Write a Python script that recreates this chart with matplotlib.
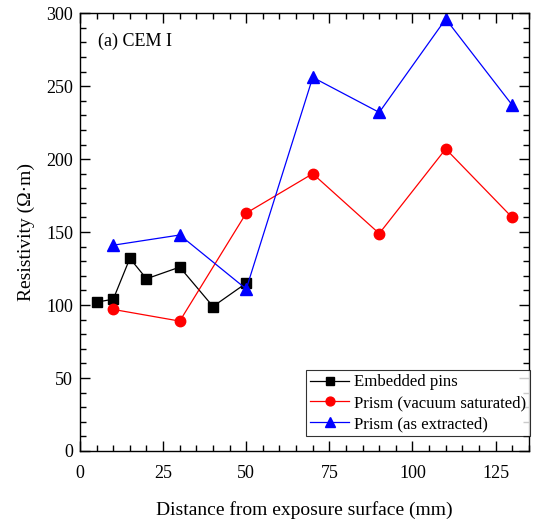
import matplotlib
matplotlib.use("Agg")
import matplotlib.pyplot as plt
from matplotlib.ticker import MultipleLocator

plt.rcParams['font.family'] = ['Liberation Serif', 'DejaVu Serif']

pins_x = [5, 10, 15, 20, 30, 40, 50]
pins_y = [102, 104, 132, 118, 126, 99, 115]

vac_x = [10, 30, 50, 70, 90, 110, 130]
vac_y = [97, 89, 163, 190, 149, 207, 160]

ext_x = [10, 30, 50, 70, 90, 110, 130]
ext_y = [141, 148, 111, 256, 232, 296, 237]

fig = plt.figure(figsize=(5.38, 5.26), dpi=100)
ax = fig.add_axes([0.1487, 0.1426, 0.8343, 0.8324])

ax.plot(pins_x, pins_y, color='black', marker='s', markersize=6.5, lw=0.9,
        label='Embedded pins')
ax.plot(vac_x, vac_y, color='red', marker='o', markersize=7.5, lw=0.9,
        label='Prism (vacuum saturated)')
ax.plot(ext_x, ext_y, color='blue', marker='^', markersize=8.5, lw=0.9,
        label='Prism (as extracted)')

ax.set_xlim(0, 135)
ax.set_ylim(0, 300)
ax.xaxis.set_major_locator(MultipleLocator(25))
ax.xaxis.set_minor_locator(MultipleLocator(5))
ax.yaxis.set_major_locator(MultipleLocator(50))
ax.yaxis.set_minor_locator(MultipleLocator(10))
ax.tick_params(which='both', direction='in', top=True, right=True,
               labelsize=13, width=1.0)
ax.tick_params(which='major', length=7)
ax.tick_params(which='minor', length=4)
ax.tick_params(axis='x', which='major', pad=10)
ax.tick_params(axis='y', which='major', pad=5)
for s in ax.spines.values():
    s.set_linewidth(1.0)

ax.set_xlabel('Distance from exposure surface (mm)', fontsize=14, labelpad=14)
ax.set_ylabel('Resistivity (Ω·m)', fontsize=14, labelpad=8)

ax.text(0.04, 0.955, '(a) CEM I', transform=ax.transAxes, fontsize=13,
        va='top', ha='left')

leg = ax.legend(loc='lower right', bbox_to_anchor=(1.003, 0.034), fontsize=12.1,
                frameon=True, fancybox=False, edgecolor='black',
                borderpad=0.25, labelspacing=0.28, handlelength=2.3,
                handletextpad=0.3, borderaxespad=0.0, markerscale=0.85)
leg.get_frame().set_linewidth(0.8)

fig.savefig('out.png', dpi=100)
